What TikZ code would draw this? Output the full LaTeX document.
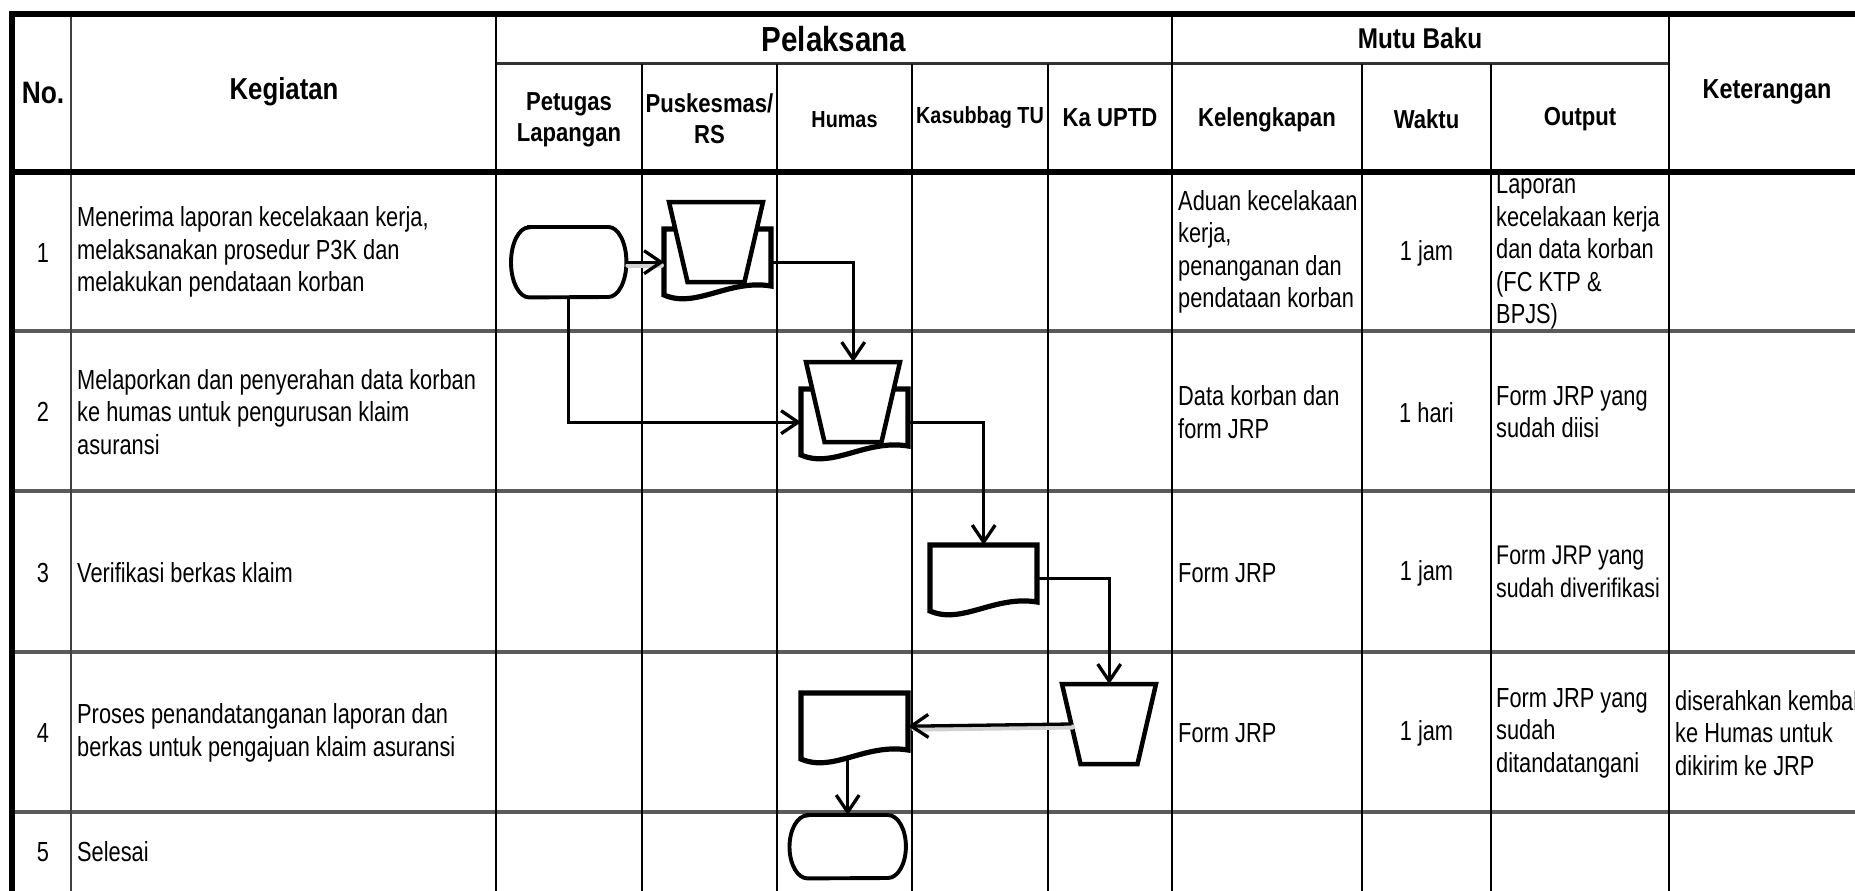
\documentclass[tikz,border=0pt]{standalone}
\usepackage{fontspec}
\setmainfont{Liberation Sans}[FakeStretch=0.79]
\newfontfamily\hdfont{Liberation Sans}[FakeStretch=0.85]
\usetikzlibrary{arrows.meta}
\definecolor{rowgray}{HTML}{5A5A5A}
\tikzset{
  thickrule/.style={line width=5.7pt, black},
  vrule/.style={line width=2.8pt, black},
  hrule/.style={line width=3.5pt, rowgray},
  hd/.style={font=\hdfont\bfseries\fontsize{26}{31}\selectfont, align=center, inner sep=0},
  hdsmall/.style={font=\hdfont\bfseries\fontsize{23.3}{31}\selectfont, align=center, inner sep=0},
  big/.style={font=\hdfont\bfseries\fontsize{30.3}{34}\selectfont, inner sep=0},
  txt/.style={font=\fontsize{27.6}{32.5}\selectfont, align=left, anchor=west, inner sep=0},
  ctr/.style={font=\fontsize{27.6}{32.5}\selectfont, inner sep=0},
  box/.style={rectangle, draw=none, inner sep=0, anchor=north west},
  docline/.style={line width=5.2pt, fill=white},
  trapline/.style={line width=4.5pt, fill=white},
  termline/.style={line width=3.9pt, fill=white},
  conn/.style={line width=3.3pt, -{Straight Barb[length=17pt,width=23pt]}},
  shadow/.style={line width=5pt, black!18, line cap=round},
  doc/.pic={
    \node[box, minimum width=107pt, minimum height=66pt] (-b) at (0,0) {};
    \draw[docline] (0,0) -- (107,0) -- (107,57) .. controls (64.2,50) and (32.1,80) .. (0,66) -- cycle;
  },
  trap/.pic={
    \node[box, minimum width=94pt, minimum height=80pt] (-t) at (0,0) {};
    \coordinate (-w) at (9.25,40);
    \draw[trapline] (0,0) -- (94,0) -- (75.5,80) -- (18.5,80) -- cycle;
  },
  multidoc/.pic={
    \node[box, minimum width=107pt, minimum height=66pt] (-b) at (0,0) {};
    \draw[docline] (0,0) -- (107,0) -- (107,57) .. controls (64.2,50) and (32.1,80) .. (0,66) -- cycle;
    \node[box, minimum width=94pt, minimum height=80pt] (-t) at (5,-27) {};
    \draw[trapline] (5,-27) -- (99,-27) -- (80.5,53) -- (23.5,53) -- cycle;
  },
}
\begin{document}
\begin{tikzpicture}[x=1pt, y=-1pt]
\useasboundingbox (0,0) rectangle (1855,891);
\fill[white] (0,0) rectangle (1855,891);

% ---------- header texts ----------
\node[big, font=\hdfont\bfseries\fontsize{31}{34}\selectfont] (hno) at (43,93) {No.};
\node[big] (hkeg) at (284,92) {Kegiatan};
\node[font=\hdfont\bfseries\fontsize{34.8}{38}\selectfont, inner sep=0] (hpel) at (834,39) {Pelaksana};
\node[big, font=\hdfont\bfseries\fontsize{28.6}{32}\selectfont] (hmutu) at (1420,38) {Mutu Baku};
\node[big, font=\hdfont\bfseries\fontsize{27.5}{32}\selectfont] (hket) at (1767,92) {Keterangan};
\node[hd] (hpet) at (569,120) {Petugas\\Lapangan};
\node[hd] (hpus) at (709.5,119) {Puskesmas/\\RS};
\node[hdsmall] (hhum) at (844.5,119.5) {Humas};
\node[hdsmall] (hkas) at (980,118) {Kasubbag TU};
\node[hd] (hka) at (1110,118) {Ka UPTD};
\node[hd] (hkel) at (1267,119.5) {Kelengkapan};
\node[hd] (hwak) at (1426.5,119.5) {Waktu};
\node[hd] (hout) at (1580,119.5) {Output};

% ---------- body texts ----------
\node[ctr] (n1) at (43,253) {1};
\node[ctr] (n2) at (43,412) {2};
\node[ctr] (n3) at (43,573) {3};
\node[ctr] (n4) at (43,733) {4};
\node[ctr] (n5) at (43,852) {5};

\node[txt] (k1) at (77,252) {Menerima laporan kecelakaan kerja,\\melaksanakan prosedur P3K dan\\melakukan pendataan korban};
\node[txt] (k2) at (77,412) {Melaporkan dan penyerahan data korban\\ke humas untuk pengurusan klaim\\asuransi};
\node[txt] (k3) at (77,573) {Verifikasi berkas klaim};
\node[txt] (k4) at (77,733) {Proses penandatanganan laporan dan\\berkas untuk pengajuan klaim asuransi};
\node[txt] (k5) at (77,852) {Selesai};

\node[txt] (l1) at (1178,252) {Aduan kecelakaan\\kerja,\\penanganan dan\\pendataan korban};
\node[txt] (l2) at (1178,412) {Data korban dan\\form JRP};
\node[txt] (l3) at (1178,573) {Form JRP};
\node[txt] (l4) at (1178,733) {Form JRP};

\node[ctr] (w1) at (1426.5,253) {1 jam};
\node[ctr] (w2) at (1426.5,413) {1 hari};
\node[ctr] (w3) at (1426.5,573) {1 jam};
\node[ctr] (w4) at (1426.5,733) {1 jam};

\node[txt] (o1) at (1496,252) {Laporan\\kecelakaan kerja\\dan data korban\\(FC KTP \&\\BPJS)};
\node[txt] (o2) at (1496,412) {Form JRP yang\\sudah diisi};
\node[txt, font=\fontsize{27}{32.5}\selectfont] (o3) at (1496,572) {Form JRP yang\\sudah diverifikasi};
\node[txt] (o4) at (1496,733) {Form JRP yang\\sudah\\ditandatangani};

\node[txt] (e4) at (1675,733) {diserahkan kembali\\ke Humas untuk\\dikirim ke JRP};

% ---------- grid ----------
\foreach \y in {331,491,652,812} \draw[hrule] (12,\y) -- (1855,\y);
\draw[line width=3pt, black!80] (496,64) -- (1669,64);
\draw[line width=2.4pt, black!75] (71,14) -- (71,891);
\foreach \x in {496,1172,1669} \draw[vrule] (\x,14) -- (\x,891);
\foreach \x in {642,777,912,1048,1362,1491} \draw[vrule] (\x,64) -- (\x,891);
\draw[thickrule] (12,172) -- (1855,172);
\draw[thickrule] (9.15,14) -- (1855,14);
\draw[thickrule] (12,11.15) -- (12,891);

% ---------- flowchart shapes ----------
\node[box, minimum width=115pt, minimum height=70pt] (t1) at (511,227) {};
\draw[termline] ([xshift=18pt]t1.north west) -- ([xshift=-18pt]t1.north east)
  arc[start angle=90, end angle=-90, x radius=18pt, y radius=35pt]
  -- ([xshift=18pt]t1.south west)
  arc[start angle=270, end angle=90, x radius=18pt, y radius=35pt] -- cycle;

\pic (pk) at (664,229) {multidoc};
\pic (hm) at (801,389) {multidoc};
\pic (ks) at (930,545) {doc};
\pic (ku) at (1062,684) {trap};
\pic (h4) at (801,693) {doc};

\node[box, minimum width=116pt, minimum height=63pt] (t2) at (789.5,815) {};
\draw[termline] ([xshift=18pt]t2.north west) -- ([xshift=-18pt]t2.north east)
  arc[start angle=90, end angle=-90, x radius=18pt, y radius=31.5pt]
  -- ([xshift=18pt]t2.south west)
  arc[start angle=270, end angle=90, x radius=18pt, y radius=31.5pt] -- cycle;

% ---------- connector shadows ----------
\draw[shadow, transform canvas={shift={(1.5pt,-3pt)}}] (t1.east) -- ([xshift=-4pt]pk-b.west |- t1.east);
\draw[shadow, transform canvas={shift={(1.5pt,-3pt)}}] (ku-w) -- ([xshift=4pt]h4-b.east);

% ---------- connectors ----------
\draw[conn] (t1.east) -- (pk-b.west |- t1.east);
\draw[conn] (pk-b.east) -| (hm-t.north);
\draw[conn] (t1.south) |- (hm-b.west);
\draw[conn] (hm-b.east) -| (ks-b.north);
\draw[conn] (ks-b.east) -| (ku-t.north);
\draw[conn] (ku-w) -- (h4-b.east);
\draw[conn] (t2.north |- h4-b.south) -- (t2.north);
\end{tikzpicture}
\end{document}
